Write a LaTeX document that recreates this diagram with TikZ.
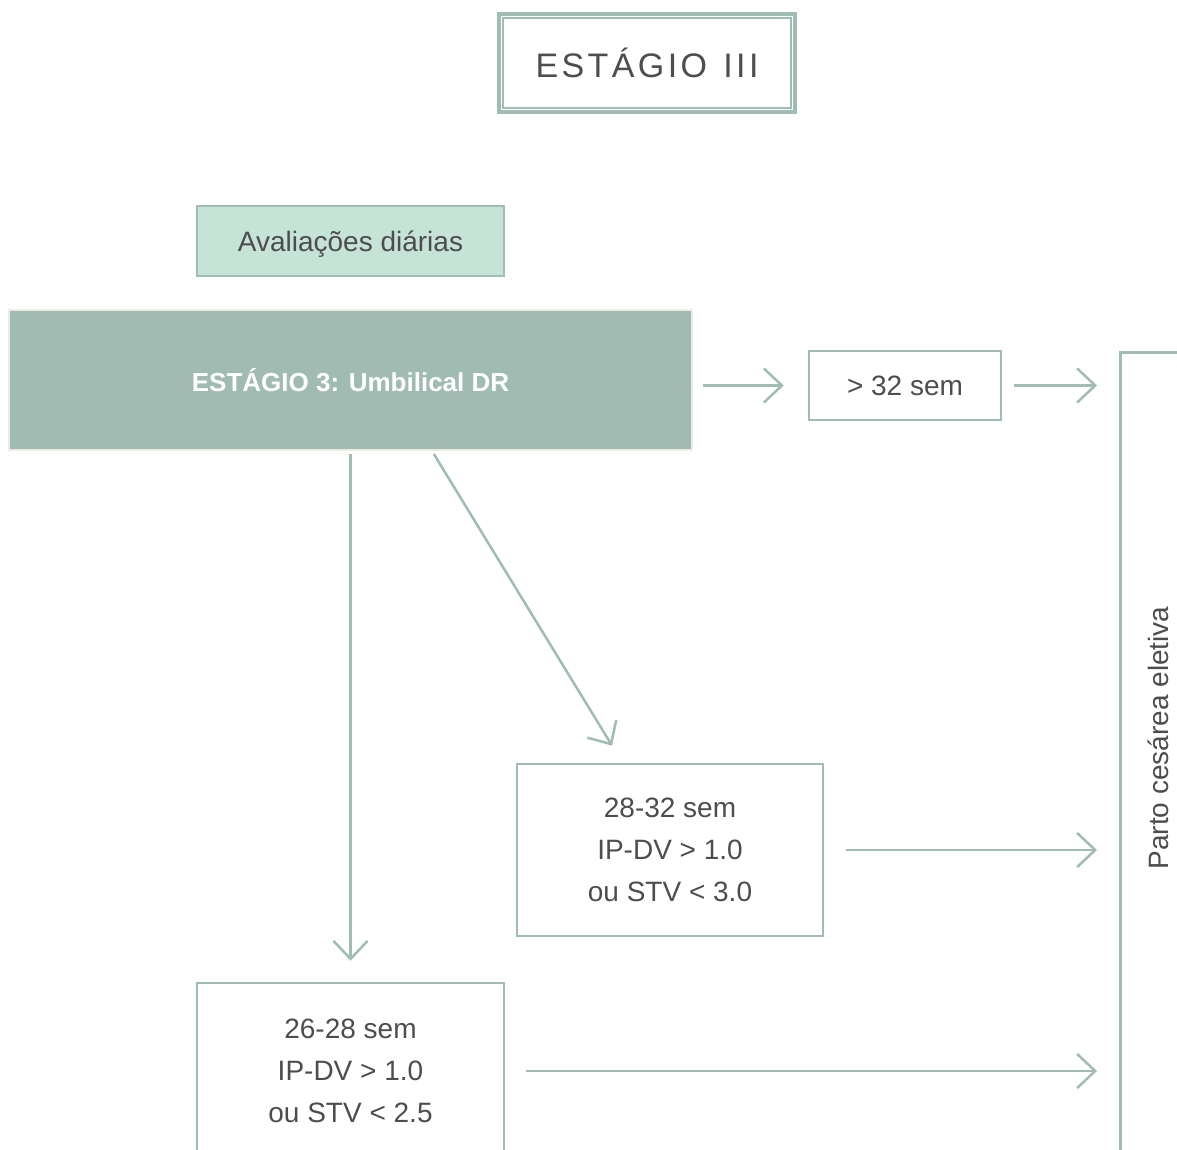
\documentclass[tikz,border=0pt]{standalone}
\usepackage{fontspec}
\setmainfont{Liberation Sans}
\usetikzlibrary{arrows.meta}
\definecolor{sage}{RGB}{160,189,178}
\definecolor{sagefill}{RGB}{160,187,178}
\definecolor{mint}{RGB}{197,227,214}
\definecolor{ink}{RGB}{77,77,77}
\definecolor{rim}{RGB}{236,236,228}
\tikzset{
  box/.style={draw=sage, line width=2.5pt, text=ink, align=center,
    font=\fontsize{28}{42}\selectfont, inner sep=0pt},
  link/.style={draw=sage, line width=2.5pt,
    -{Straight Barb[length=18pt,width=34pt,line width=2.5pt]}},
  rail/.style={draw=sage, line width=3pt},
}
\begin{document}
\begin{tikzpicture}[x=1pt,y=-1pt]
\useasboundingbox (0,0) rectangle (1177,1150);
\fill[white] (0,0) rectangle (1177,1150);
\begin{scope}
\clip (0,0) rectangle (1177,1150);

% heading
\node[draw=sage, line width=4pt, minimum width=296pt, minimum height=98pt,
  text=ink, font=\fontsize{34}{40}\selectfont] (title) at (647,63)
  {E\kern3.4pt S\kern3.4pt T\kern3.4pt Á\kern3.4pt G\kern3.4pt I\kern3.4pt O\kern3.4pt\ \kern3.4pt I\kern3.4pt I\kern3.4pt I};
\draw[sage, line width=1.5pt] ([shift={(6,6)}]title.north west)
  rectangle ([shift={(-6,-6)}]title.south east);

% daily checks
\node[box, line width=2pt, fill=mint, minimum width=307pt, minimum height=69pt,
  text depth=0pt] (daily) at (350.5,241) {Avaliações diárias};

% stage box
\node[draw=rim, line width=2pt, fill=sagefill, minimum width=683pt,
  minimum height=140pt, text=white, font=\fontsize{26}{30}\selectfont\bfseries]
  (main) at (350.5,380) {ESTÁGIO 3: Umbilical DR};

% outcomes
\node[box, minimum width=192pt, minimum height=69pt] (gt32) at (905,385.5) {> 32 sem};
\node[box, minimum width=306pt, minimum height=172pt] (mid) at (670,850)
  {28-32 sem\\IP-DV > 1.0\\ou STV < 3.0};
\node[box, minimum width=307pt, minimum height=176pt] (low) at (350.5,1071)
  {26-28 sem\\IP-DV > 1.0\\ou STV < 2.5};

% delivery rail
\coordinate (rail) at (1120,352);
\draw[rail] (1177,352) -- (rail) -- (1120,1150);
\node[rotate=90, text=ink, font=\fontsize{28}{30}\selectfont] (parto) at (1158,738)
  {Parto cesárea eletiva};

% connectors
\draw[link, shorten <=10pt, shorten >=24pt] (main.east |- gt32.west) -- (gt32.west);
\draw[link, shorten <=12pt, shorten >=23pt] (gt32.east) -- (gt32.east -| rail);
\draw[link, shorten <=22pt, shorten >=23pt] (mid.east) -- (mid.east -| rail);
\draw[link, shorten <=21pt, shorten >=23pt] (low.east) -- (low.east -| rail);
\draw[link, shorten <=3pt, shorten >=21pt] (main.south) -- (low.north);
\draw[link, shorten <=3.5pt, shorten >=20pt] ([xshift=81.5pt]main.south)
  -- ([xshift=-47.5pt]mid.north);
\end{scope}
\end{tikzpicture}
\end{document}
